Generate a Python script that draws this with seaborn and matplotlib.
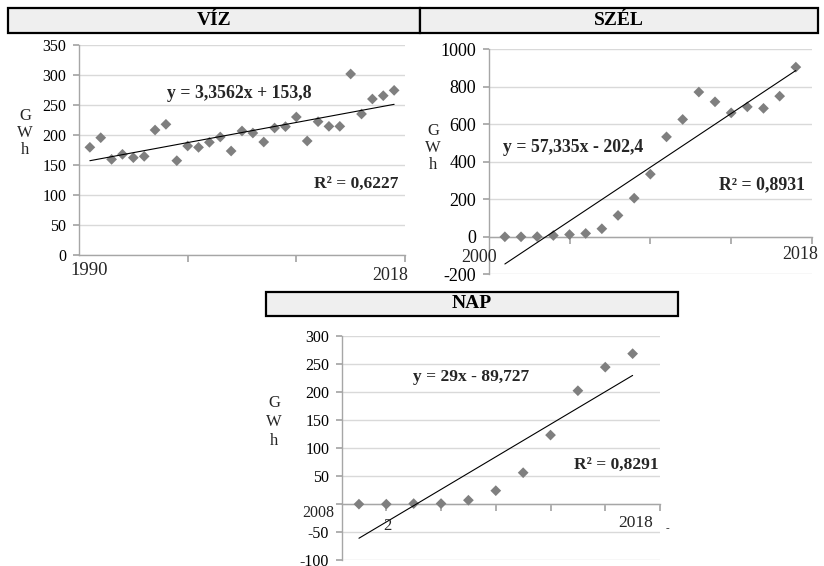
import numpy as np
import pandas as pd
import matplotlib
matplotlib.use("Agg")
import matplotlib.pyplot as plt
from matplotlib.patches import Rectangle
import seaborn as sns

# ---------------- data ----------------
viz_years = list(range(1990, 2019))
viz_gwh = [179.5, 195.5, 159.4, 167.8, 162.2, 164.4, 208.3, 217.8, 157.2, 181.7,
           179.4, 187.8, 196.7, 173.3, 206.7, 203.3, 188.3, 211.7, 213.9, 230.0,
           190.0, 222.2, 214.4, 214.4, 301.7, 235.0, 260.0, 265.5, 274.4]
viz_trend = (3.3562, 153.8)

szel_years = list(range(2000, 2019))
szel_gwh = [0, 0, 1, 7, 12, 18, 43, 114, 206, 334, 533, 626, 772, 720, 661, 693, 685, 750, 905]
szel_trend = (57.335, -202.4)

nap_years = list(range(2008, 2019))
nap_gwh = [0, 0, 1, 1, 7, 24, 56, 123, 202, 244, 268]
nap_trend = (29.0, -89.727)

titles = ["VÍZ", "SZÉL", "NAP"]
equations = ["y = 3,3562x + 153,8", "y = 57,335x - 202,4", "y = 29x - 89,727"]
r2_texts = ["R² = 0,6227", "R² = 0,8931", "R² = 0,8291"]

viz_yticks = [0, 50, 100, 150, 200, 250, 300, 350]
szel_yticks = [-200, 0, 200, 400, 600, 800, 1000]
nap_yticks = [-100, -50, 0, 50, 100, 150, 200, 250, 300]
nap_yticklabels = ["-100", "-50", "", "50", "100", "150", "200", "250", "300"]

# ---------------- style ----------------
sns.set_theme(style="white")
plt.rcParams["font.family"] = ["Liberation Serif", "DejaVu Serif"]

W, H = 824, 566
fig = plt.figure(figsize=(W / 100, H / 100), dpi=100)


def fx(x):
    return x / W


def fy(y):
    return 1 - y / H


def axes_px(l, t, r, b):
    return fig.add_axes([fx(l), fy(b), (r - l) / W, (b - t) / H])


GRID = "#d9d9d9"
SPINE = "#a6a6a6"
MARK = "#7f7f7f"


def style_axes(ax, xlim, ylim, yticks, ylabels, xticks, fs, zero_axis):
    ax.set_xlim(*xlim)
    ax.set_ylim(*ylim)
    ax.set_yticks(yticks)
    ax.set_yticklabels(ylabels if ylabels is not None else [str(v) for v in yticks], fontsize=fs)
    ax.set_xticks(xticks)
    ax.set_xticklabels([])
    ax.yaxis.grid(True, color=GRID, lw=1)
    ax.xaxis.grid(False)
    for s in ["top", "right"]:
        ax.spines[s].set_visible(False)
    ax.spines["left"].set_color(SPINE)
    ax.spines["bottom"].set_color(SPINE)
    ax.spines["left"].set_linewidth(1)
    ax.spines["bottom"].set_linewidth(1)
    if zero_axis:
        ax.spines["bottom"].set_position(("data", 0))
    ax.tick_params(axis="y", length=4, color=SPINE, pad=5, labelcolor="black", left=True)
    ax.tick_params(axis="x", length=5, color=SPINE, direction="out", bottom=True)
    ax.set_xlabel("")
    ax.set_ylabel("")
    ax.set_facecolor("white")


def draw_panel(ax, values, trend):
    xs = np.arange(1, len(values) + 1)
    df = pd.DataFrame({"x": xs, "y": values})
    sns.scatterplot(data=df, x="x", y="y", marker="D", color=MARK, s=30,
                    edgecolor="none", ax=ax, zorder=3)
    slope, intercept = trend
    tl = pd.DataFrame({"x": xs, "y": slope * xs + intercept})
    sns.lineplot(data=tl, x="x", y="y", color="black", lw=0.8, ax=ax, zorder=4)


def title_box(l, t, r, b, text):
    fig.patches.append(Rectangle((fx(l), fy(b)), (r - l) / W, (b - t) / H,
                                 transform=fig.transFigure, facecolor="#efefef",
                                 edgecolor="black", lw=1.6, zorder=0))
    fig.text(fx((l + r) / 2), fy((t + b) / 2), text, ha="center", va="center",
             fontsize=14, fontweight="bold", color="black")


def gwh(x, y0, step, fs=12):
    for i, ch in enumerate("GWh"):
        fig.text(fx(x), fy(y0 + i * step), ch, ha="center", va="center", fontsize=fs)


def note(x, y, s, fs, bold=False):
    fig.text(fx(x), fy(y), s, ha="center", va="center", fontsize=fs,
             fontweight="bold" if bold else "normal")


# ---- VÍZ ----
ax1 = axes_px(79, 45, 405, 255)
draw_panel(ax1, viz_gwh, viz_trend)
style_axes(ax1, (0, 30), (0, 350), viz_yticks, None, [10, 20, 30], 11.5, False)
title_box(8, 8, 420, 33, titles[0])
gwh(25, 116, 17)
note(239, 93, equations[0], 12.8, True)
note(356, 184, r2_texts[0], 12.5, True)
note(89, 270, str(viz_years[0]), 13.5)
note(390, 276, str(viz_years[-1]), 13)

# ---- SZÉL ----
ax2 = axes_px(488.7, 49.3, 812, 274.3)
draw_panel(ax2, szel_gwh, szel_trend)
style_axes(ax2, (0, 20), (-200, 1000), szel_yticks, None, [5, 10, 15, 20], 13, True)
title_box(420, 8, 818, 33, titles[1])
gwh(433, 131, 17)
note(573, 147, equations[1], 12.8, True)
note(762, 185, r2_texts[1], 12.8, True)
note(479, 257, str(szel_years[0]), 13)
note(800, 254, str(szel_years[-1]), 13)

# ---- NAP ----
ax3 = axes_px(341.7, 335.7, 660, 560.3)
draw_panel(ax3, nap_gwh, nap_trend)
style_axes(ax3, (0.37, 12), (-100, 300), nap_yticks, nap_yticklabels,
           [2, 4, 6, 8, 10, 12], 11.5, True)
title_box(266, 292, 678, 316, titles[2])
gwh(274, 403, 19)
note(471, 377, equations[2], 12.5, True)
note(616, 465, r2_texts[2], 12.5, True)
note(318, 513, str(nap_years[0]), 11.5)
note(387, 526, "2", 12)
note(636, 523, str(nap_years[-1]), 12.5)
note(667, 529, "-", 8)

fig.savefig("out.png", dpi=100, facecolor="white")
